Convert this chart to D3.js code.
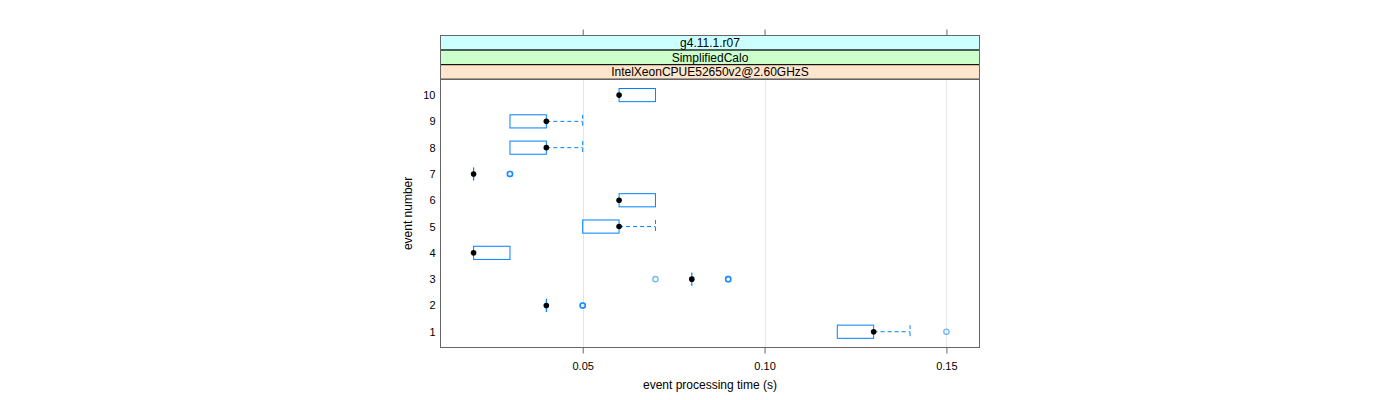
<!DOCTYPE html>
<html>
<head>
<meta charset="utf-8">
<script src="https://cdn.jsdelivr.net/npm/d3@7"></script>
<style>
  body { margin: 0; background: #fff; }
  text { font-family: "Liberation Sans", Arial, sans-serif; fill: #000; }
</style>
</head>
<body>
<script>
// per-event box stats
var events = [1, 2, 3, 4, 5, 6, 7, 8, 9, 10];
var lowWhisker = [0.12, 0.04, 0.08, 0.02, 0.05, 0.06, 0.02, 0.03, 0.03, 0.06];
var q1 = [0.12, 0.04, 0.08, 0.02, 0.05, 0.06, 0.02, 0.03, 0.03, 0.06];
var medians = [0.13, 0.04, 0.08, 0.02, 0.06, 0.06, 0.02, 0.04, 0.04, 0.06];
var q3 = [0.13, 0.04, 0.08, 0.03, 0.06, 0.07, 0.02, 0.04, 0.04, 0.07];
var highWhisker = [0.14, 0.04, 0.08, 0.03, 0.07, 0.07, 0.02, 0.05, 0.05, 0.07];
// outliers: [event, value], repeated values drawn over each other
var outliers = [
  [1, 0.15],
  [2, 0.05], [2, 0.05], [2, 0.05],
  [3, 0.07], [3, 0.09], [3, 0.09], [3, 0.09],
  [7, 0.03], [7, 0.03], [7, 0.03]
];
var stripLabels = ["g4.11.1.r07", "SimplifiedCalo", "IntelXeonCPUE52650v2@2.60GHzS"];
var stripColors = ["#ccffff", "#ccffcc", "#ffe5cc"];
var xTicks = [0.05, 0.10, 0.15];

var W = 1400, H = 400;
var pLeft = 440.5, pRight = 979.5, stripTop = 35.5, stripH = 14.6;
var panelTop = stripTop + stripH * 3, panelBottom = 347.5;
var blue = "#0080ff";

var svg = d3.select("body").append("svg").attr("width", W).attr("height", H);

var x = d3.scaleLinear().domain([0.0109, 0.1591]).range([pLeft, pRight]);
var y = d3.scaleLinear().domain([0.4, 10.6]).range([panelBottom, panelTop]);
var boxH = (y(0) - y(0.5));

// grid
svg.append("g").selectAll("line").data(xTicks).join("line")
  .attr("x1", function (d) { return Math.round(x(d)) + 0.5; })
  .attr("x2", function (d) { return Math.round(x(d)) + 0.5; })
  .attr("y1", panelTop).attr("y2", panelBottom)
  .attr("stroke", "#e6e6e6").attr("stroke-width", 1);

// strips
var strips = svg.append("g");
stripLabels.forEach(function (lab, i) {
  var sy = stripTop + stripH * i;
  strips.append("rect").attr("x", pLeft).attr("y", sy).attr("width", pRight - pLeft).attr("height", stripH)
    .attr("fill", stripColors[i]).attr("stroke", "#000").attr("stroke-width", 1);
  strips.append("text").attr("x", (pLeft + pRight) / 2).attr("y", sy + stripH / 2 + 4.3)
    .attr("text-anchor", "middle").style("font-size", "12px").text(lab);
});
// outer frame of strips in grey
strips.append("rect").attr("x", pLeft).attr("y", stripTop).attr("width", pRight - pLeft).attr("height", stripH * 3)
  .attr("fill", "none").attr("stroke", "#666");

// panel border
svg.append("rect").attr("x", pLeft).attr("y", panelTop).attr("width", pRight - pLeft)
  .attr("height", panelBottom - panelTop).attr("fill", "none").attr("stroke", "#666");

// axes
var xAxis = d3.axisBottom(x).tickValues(xTicks).tickFormat(d3.format(".2f")).tickSize(6).tickSizeOuter(0);
var gx = svg.append("g").attr("transform", "translate(0," + panelBottom + ")").call(xAxis);
gx.select(".domain").remove();
gx.selectAll("line").attr("stroke", "#666");
gx.selectAll("text").style("font-size", "11px").attr("y", 11).attr("dy", "1em");

var gt = svg.append("g").attr("transform", "translate(0," + stripTop + ")")
  .call(d3.axisTop(x).tickValues(xTicks).tickFormat("").tickSize(6).tickSizeOuter(0));
gt.select(".domain").remove();
gt.selectAll("line").attr("stroke", "#666");

var yAxis = d3.axisLeft(y).tickValues(events).tickFormat(d3.format("d")).tickSize(0);
var gy = svg.append("g").attr("transform", "translate(" + pLeft + ",0)").call(yAxis);
gy.select(".domain").remove();
gy.selectAll("text").style("font-size", "11px").attr("x", -5);

svg.append("text").attr("x", (pLeft + pRight) / 2).attr("y", 389)
  .attr("text-anchor", "middle").style("font-size", "12px").text("event processing time (s)");
svg.append("text").attr("transform", "translate(412," + ((panelTop + panelBottom) / 2) + ") rotate(-90)")
  .attr("text-anchor", "middle").style("font-size", "12px").text("event number");

// boxes
var rows = events.map(function (e, i) {
  return { ev: e, lo: lowWhisker[i], q1: q1[i], med: medians[i], q3: q3[i], hi: highWhisker[i] };
});
var g = svg.append("g");
rows.forEach(function (r) {
  var cy = y(r.ev);
  if (r.hi > r.q3) {
    g.append("line").attr("x1", x(r.q3)).attr("x2", x(r.hi)).attr("y1", cy).attr("y2", cy)
      .attr("stroke", blue).attr("stroke-dasharray", "4,3");
    g.append("line").attr("x1", x(r.hi)).attr("x2", x(r.hi)).attr("y1", cy - boxH / 2).attr("y2", cy + boxH / 2)
      .attr("stroke", blue).attr("stroke-dasharray", "4,3");
  }
  if (r.lo < r.q1) {
    g.append("line").attr("x1", x(r.lo)).attr("x2", x(r.q1)).attr("y1", cy).attr("y2", cy)
      .attr("stroke", blue).attr("stroke-dasharray", "4,3");
    g.append("line").attr("x1", x(r.lo)).attr("x2", x(r.lo)).attr("y1", cy - boxH / 2).attr("y2", cy + boxH / 2)
      .attr("stroke", blue).attr("stroke-dasharray", "4,3");
  }
  if (x(r.q3) - x(r.q1) < 0.5) {
    // zero-width box collapses to a vertical line
    g.append("line").attr("x1", x(r.q1)).attr("x2", x(r.q1))
      .attr("y1", cy - boxH / 2).attr("y2", cy + boxH / 2)
      .attr("stroke", blue).attr("stroke-width", 1.2);
  } else {
    g.append("rect").attr("x", x(r.q1)).attr("y", cy - boxH / 2)
      .attr("width", x(r.q3) - x(r.q1)).attr("height", boxH)
      .attr("fill", "none").attr("stroke", blue).attr("stroke-width", 1);
  }
  g.append("circle").attr("cx", x(r.med)).attr("cy", cy).attr("r", 2.8).attr("fill", "#000");
});

// outliers
g.selectAll("circle.out").data(outliers).join("circle").attr("class", "out")
  .attr("cx", function (d) { return x(d[1]); })
  .attr("cy", function (d) { return y(d[0]); })
  .attr("r", 2.6).attr("fill", "none").attr("stroke", blue).attr("stroke-width", 1.4)
  .attr("stroke-opacity", 0.55);
</script>
</body>
</html>
